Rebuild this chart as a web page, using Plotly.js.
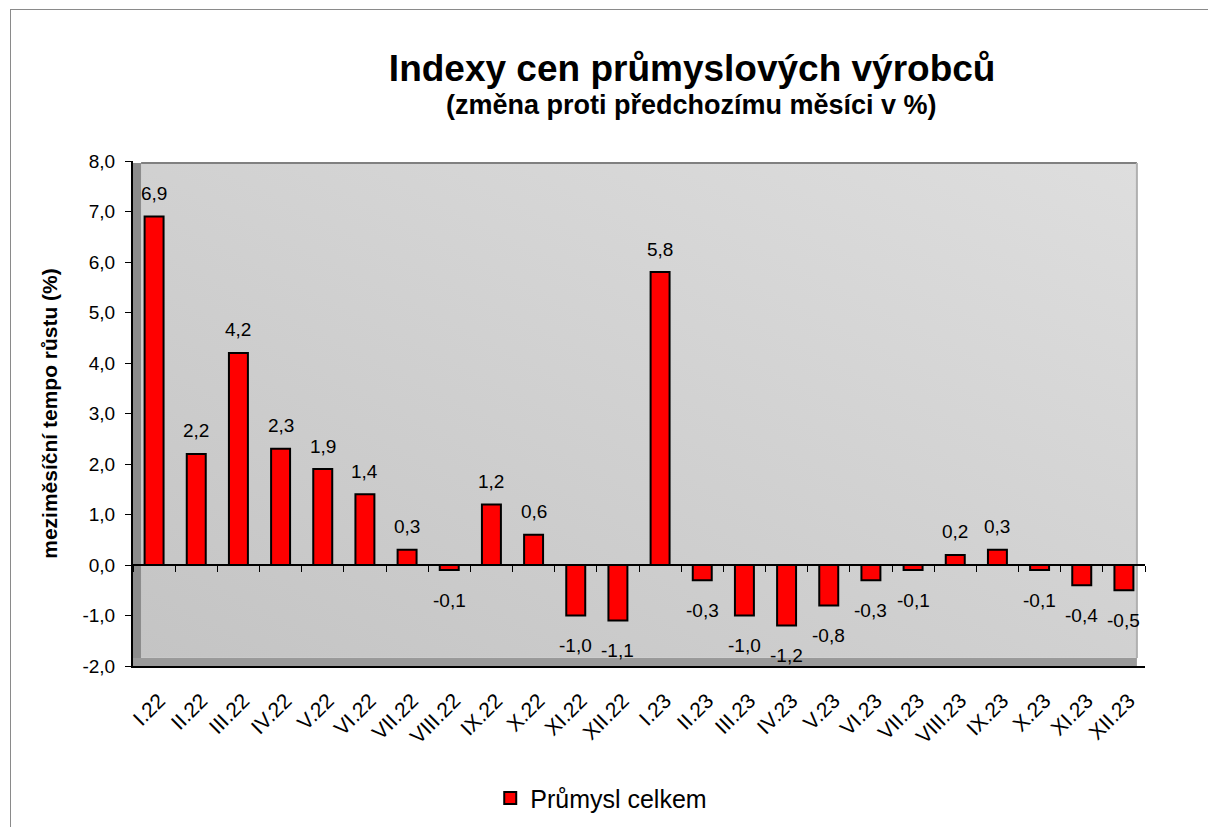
<!DOCTYPE html>
<html>
<head>
<meta charset="utf-8">
<script src="https://cdn.plot.ly/plotly-3.0.1.min.js"></script>
<style>
html,body{margin:0;padding:0;background:#fff;}
#chart{width:1208px;height:827px;position:relative;}
#frame{position:absolute;left:10px;top:9px;width:1200px;height:830px;border:1px solid #8a8a8a;pointer-events:none;}
</style>
</head>
<body>
<div id="chart"></div>
<div id="frame"></div>
<script>
const categories = ["I.22","II.22","III.22","IV.22","V.22","VI.22","VII.22","VIII.22","IX.22","X.22","XI.22","XII.22",
                    "I.23","II.23","III.23","IV.23","V.23","VI.23","VII.23","VIII.23","IX.23","X.23","XI.23","XII.23"];
const values = [6.9,2.2,4.2,2.3,1.9,1.4,0.3,-0.1,1.2,0.6,-1.0,-1.1,
                5.8,-0.3,-1.0,-1.2,-0.8,-0.3,-0.1,0.2,0.3,-0.1,-0.4,-0.5];
const seriesName = "Průmysl celkem";
const yTicks = [-2,-1,0,1,2,3,4,5,6,7,8];

const fmt = v => v.toFixed(1).replace('.', ',');
const FONT = 'Liberation Sans, Arial, sans-serif';

const svg = "<svg xmlns='http://www.w3.org/2000/svg' width='100' height='100' preserveAspectRatio='none'>" +
  "<defs><linearGradient id='g' x1='0' y1='1' x2='1' y2='0'>" +
  "<stop offset='0' stop-color='#c4c4c4'/><stop offset='1' stop-color='#dedede'/></linearGradient></defs>" +
  "<rect width='100' height='100' fill='url(#g)'/></svg>";
const bgUri = "data:image/svg+xml;charset=utf-8," + encodeURIComponent(svg);

const bars = {
  type: 'bar',
  x: categories,
  y: values,
  name: seriesName,
  marker: {color: '#ff0000', line: {color: '#000000', width: 2}},
  width: 0.45,
  cliponaxis: false,
  hoverinfo: 'x+y'
};

// invisible companion trace that carries the categories onto the zero-line axis (for its tick marks)
const zeroAxisCarrier = {
  type: 'scatter', mode: 'none',
  x: categories, y: values,
  xaxis: 'x2', showlegend: false, hoverinfo: 'skip'
};

// data labels, placed through the axes at each bar's end
const labelAnnotations = categories.map((c, i) => ({
  x: c, y: values[i], xref: 'x', yref: 'y',
  text: fmt(values[i]), showarrow: false,
  yshift: values[i] >= 0 ? 23 : -30,
  font: {family: FONT, size: 19, color: '#000'}
}));

const layout = {
  width: 1208, height: 827,
  margin: {l: 133, r: 63, t: 161, b: 161, autoexpand: false},
  paper_bgcolor: '#ffffff',
  plot_bgcolor: 'rgba(0,0,0,0)',
  separators: ', ',
  font: {family: FONT, color: '#000'},
  title: {
    text: '<b>Indexy cen průmyslových výrobců</b>',
    font: {size: 37, family: FONT, color: '#000'},
    x: 0.573, xref: 'container', xanchor: 'center',
    y: 0.918, yref: 'container', yanchor: 'middle'
  },
  annotations: [{
    text: '<b>(změna proti předchozímu měsíci v %)</b>',
    xref: 'paper', yref: 'paper', x: 0.552, y: 1.111,
    xanchor: 'center', yanchor: 'middle', showarrow: false,
    font: {size: 27, family: FONT, color: '#000'}
  }].concat(labelAnnotations),
  showlegend: true,
  legend: {
    orientation: 'h', x: 0.353, xanchor: 'left', y: -0.262, yanchor: 'middle',
    font: {size: 25}, itemwidth: 30
  },
  xaxis: {
    type: 'category',
    range: [-0.5, 23.5],
    showline: true, linecolor: '#000', linewidth: 2,
    ticks: '', showgrid: false, zeroline: false,
    tickangle: -45,
    tickfont: {size: 21},
    ticklabelstandoff: 12, ticklabelshift: 5,
    automargin: false
  },
  xaxis2: {
    type: 'category',
    overlaying: 'x', anchor: 'free', position: 0.2,
    range: [-0.5, 23.5],
    showline: true, linecolor: '#000', linewidth: 2,
    ticks: 'outside', ticklen: 6, tickcolor: '#000', tickson: 'boundaries',
    showticklabels: false, showgrid: false, zeroline: false
  },
  yaxis: {
    range: [-2, 8],
    tickvals: yTicks,
    ticktext: yTicks.map(fmt),
    showline: true, linecolor: '#000', linewidth: 2,
    ticks: 'outside', ticklen: 6, tickcolor: '#000',
    tickfont: {size: 19},
    ticklabelstandoff: 6,
    showgrid: false, zeroline: false, automargin: false,
    title: {text: '<b>meziměsíční tempo růstu (%)</b>', font: {size: 21}, standoff: 19}
  },
  images: [{
    source: bgUri, xref: 'paper', yref: 'paper',
    x: 0.008, y: 0.996, sizex: 0.984, sizey: 0.98, xanchor: 'left', yanchor: 'top',
    sizing: 'stretch', layer: 'below'
  }],
  shapes: [
    {type: 'rect', xref: 'paper', yref: 'paper', x0: 0, x1: 0.008, y0: 0, y1: 0.996,
     fillcolor: '#8c8c8c', line: {width: 0}, layer: 'below'},
    {type: 'rect', xref: 'paper', yref: 'paper', x0: 0, x1: 0.992, y0: 0, y1: 0.016,
     fillcolor: '#9a9a9a', line: {width: 0}, layer: 'below'},
    {type: 'line', xref: 'paper', yref: 'paper', x0: 0.008, x1: 0.992, y0: 0.996, y1: 0.996,
     line: {color: '#808080', width: 2}, layer: 'below'},
    {type: 'line', xref: 'paper', yref: 'paper', x0: 0.992, x1: 0.992, y0: 0.016, y1: 0.996,
     line: {color: '#b0b0b0', width: 2}, layer: 'below'}
  ]
};

Plotly.newPlot('chart', [bars, zeroAxisCarrier], layout, {displayModeBar: false, staticPlot: true});
</script>
</body>
</html>
